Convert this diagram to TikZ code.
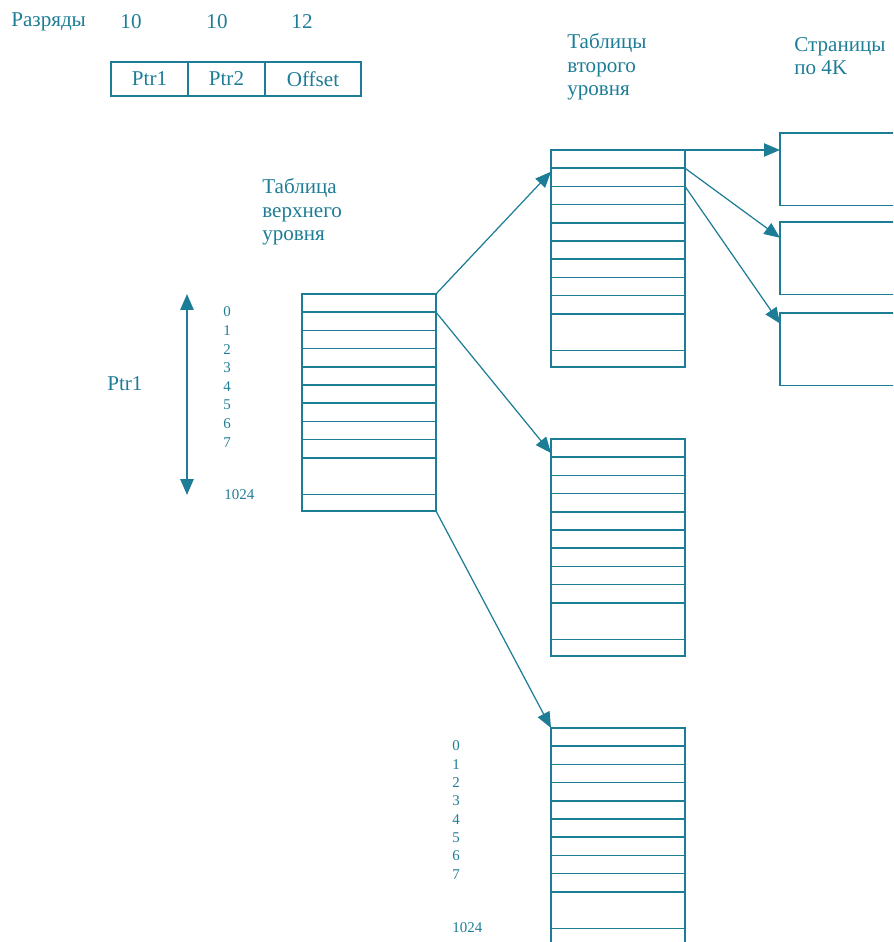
\documentclass[tikz,border=0pt]{standalone}
\usepackage{fontspec}
\setmainfont{Liberation Serif}
\usepackage{tikz}
\usetikzlibrary{arrows.meta,positioning}
\definecolor{myteal}{RGB}{30,125,150}
\tikzstyle{arrow} = [color=myteal, line width=0.7pt, -{Triangle[length=9pt,width=7.5pt]}]
\tikzstyle{darrow} = [color=myteal, line width=1pt, {Triangle[length=9pt,width=7.5pt]}-{Triangle[length=9pt,width=7.5pt]}]
\tikzstyle{tbl} = [draw=myteal, line width=0.9pt, minimum width=2.68cm, minimum height=4.34cm, inner sep=0pt, outer sep=0pt, anchor=north west]
\tikzstyle{page} = [draw=myteal, line width=0.9pt, minimum width=3cm, minimum height=1.45cm, inner sep=0pt, outer sep=0pt, anchor=north west]
\tikzstyle{cell} = [draw=myteal, line width=0.9pt, text=myteal, minimum height=0.68cm, inner sep=0pt, outer sep=0pt, font=\fontsize{12}{13.3}\selectfont]
\tikzstyle{lbl} = [text=myteal, inner sep=0pt, anchor=west, align=left, font=\fontsize{12}{13.3}\selectfont]
\tikzstyle{num} = [text=myteal, inner sep=0pt, anchor=west, font=\fontsize{8.5}{10}\selectfont]
\newcommand{\tblrows}[1]{%
  \foreach \k in {1,...,9}
    \draw[myteal, line width=0.9pt] (#1.north west) ++(0,\k*18.2) coordinate (#1-l\k) -- ++(134,0) coordinate (#1-\k);
  \draw[myteal, line width=0.9pt] (#1.south west) ++(0,-16.5) -- ++(134,0);
}

\begin{document}
\begin{tikzpicture}[x=0.02cm,y=-0.02cm]
          \useasboundingbox (0,0) rectangle (893,942);
          \clip (0,0) rectangle (893,942);
          % address format
          \node[lbl] (bits) at (11,22) {Разряды};
          \node[lbl, anchor=center] (w1) at (131,22) {10};
          \node[lbl, anchor=center] (w2) at (217,22) {10};
          \node[lbl, anchor=center] (w3) at (302,22) {12};
          \node[cell, minimum width=1.54cm, anchor=west] (ptr1) at (111,79) {Ptr1};
          \node[cell, minimum width=1.54cm, right=0pt of ptr1] (ptr2) {Ptr2};
          \node[cell, minimum width=1.92cm, right=0pt of ptr2] (offs) {Offset};
          % tables
          \node[tbl] (top) at (302,294) {};
          \node[tbl] (sec1) at (551,150) {};
          \node[tbl] (sec2) at (551,439) {};
          \node[tbl] (sec3) at (551,728) {};
          \tblrows{top}
          \tblrows{sec1}
          \tblrows{sec2}
          \tblrows{sec3}
          \node[page] (pg1) at (780,133) {};
          \node[page] (pg2) at (780,222) {};
          \node[page] (pg3) at (780,313) {};
          % captions
          \node[lbl] (toplbl) at (262,212) {Таблица\\верхнего\\уровня};
          \node[lbl] (seclbl) at (567,67) {Таблицы\\второго\\уровня};
          \node[lbl] (pglbl) at (794,56) {Страницы\\по 4K};
          % indices
          \foreach \k in {0,...,7} \node[num] (ta\k) at (223,312+\k*18.6) {\k};
          \node[num] (ta10) at (224,495) {1024};
          \foreach \k in {0,...,7} \node[num] (tc\k) at (452,746+\k*18.3) {\k};
          \node[num] (tc10) at (452,928) {1024};
          \coordinate (ptrtop) at (187,294);
          \coordinate (ptrbot) at (187,495);
          \draw[darrow] (ptrtop) -- (ptrbot);
          \node[lbl] (ptrlbl) at (107,384) {Ptr1};
          % pointers
          \draw[arrow] (top.north east) -- ([yshift=-2pt]sec1-l1);
          \draw[arrow] (top-1) -- ([yshift=-8pt]sec2.north west);
          \draw[arrow] (top.south east) -- (sec3.north west);
          \draw[arrow] (sec1.north east) -- (sec1.north east -| pg1.west);
          \draw[arrow] (sec1-1) -- ([yshift=-9pt]pg2.north west);
          \draw[arrow] (sec1-2) -- ([yshift=-6pt]pg3.north west);
\end{tikzpicture}
\end{document}
